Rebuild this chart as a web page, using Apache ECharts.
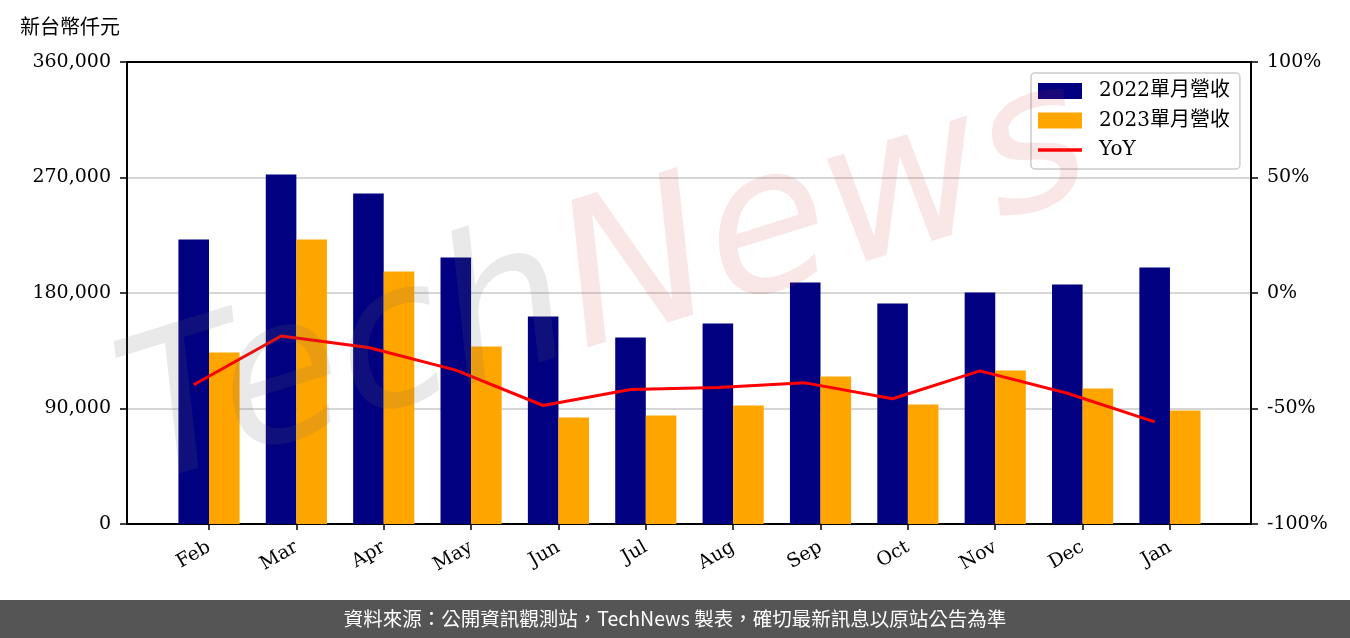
<!DOCTYPE html>
<html><head><meta charset="utf-8">
<script src="https://cdn.jsdelivr.net/npm/echarts@6/dist/echarts.min.js"></script>
<style>html,body{margin:0;padding:0;background:#fff}#c{width:1350px;height:638px}</style>
</head><body><div id="c"></div>
<script>
const categories = ['Feb','Mar','Apr','May','Jun','Jul','Aug','Sep','Oct','Nov','Dec','Jan'];
const revenue2022 = [221700, 272300, 257500, 207700, 161700, 145300, 156200, 188200, 171800, 180400, 186600, 199900];
const revenue2023 = [133600, 221700, 196700, 138300, 83000, 84500, 92300, 114900, 93100, 119600, 105600, 88400];
const yoy = [-39.7, -18.6, -23.6, -33.4, -48.7, -41.8, -40.9, -38.9, -45.8, -33.7, -43.4, -55.8];
const leftTicks = [0, 90000, 180000, 270000, 360000];
const rightTicks = [-100, -50, 0, 50, 100];
const seriesNames = ['2022單月營收', '2023單月營收', 'YoY'];
const unitLabel = '新台幣仟元';
const footerText = '資料來源：公開資訊觀測站，TechNews 製表，確切最新訊息以原站公告為準';

// layout
const PL = 127, PT = 62, PW = 1124, PH = 462;
const STEP = 87.36, FIRST = 209;
const G1L = FIRST - STEP / 2, G1W = STEP * categories.length;
const G2L = G1L - 0.175 * STEP;
const SERIF = "'DejaVu Serif', 'Noto Sans CJK TC', serif";

const chart = echarts.init(document.getElementById('c'), null, {renderer: 'canvas'});
const fmt = v => v.toLocaleString('en-US');
const hidden = {show: false};
const spine = {show: true, onZero: false, lineStyle: {color: '#000', width: 2}};
const option = {
  animation: false,
  backgroundColor: '#fff',
  grid: [
    {left: PL, top: PT, width: PW, height: PH},
    {left: G1L, top: PT, width: G1W, height: PH},
    {left: G2L, top: PT, width: G1W, height: PH}
  ],
  xAxis: [
    {gridIndex: 0, type: 'value', min: 0, max: 1, position: 'bottom',
     axisLine: spine, axisTick: hidden, axisLabel: hidden, splitLine: hidden},
    {gridIndex: 0, type: 'value', min: 0, max: 1, position: 'top',
     axisLine: spine, axisTick: hidden, axisLabel: hidden, splitLine: hidden},
    {gridIndex: 1, type: 'category', data: categories, boundaryGap: true,
     axisLine: {show: false, onZero: false},
     axisTick: {show: true, alignWithLabel: true, length: 6, lineStyle: {color: '#000', width: 1.5}},
     axisLabel: {rotate: 30, margin: 22, color: '#000', fontSize: 19, fontFamily: SERIF, interval: 0},
     splitLine: hidden},
    {gridIndex: 2, type: 'category', data: categories, boundaryGap: true,
     axisLine: {show: false, onZero: false}, axisTick: hidden, axisLabel: hidden, splitLine: hidden}
  ],
  yAxis: [
    {gridIndex: 0, type: 'value', position: 'left', min: leftTicks[0], max: leftTicks[leftTicks.length - 1], interval: leftTicks[1] - leftTicks[0],
     axisLine: spine,
     axisTick: {show: true, length: 7, lineStyle: {color: '#000', width: 1.5}},
     axisLabel: {formatter: fmt, margin: 16, color: '#000', fontSize: 19, fontFamily: SERIF},
     splitLine: {show: true, lineStyle: {color: '#d6d6d6', width: 2}}},
    {gridIndex: 0, type: 'value', position: 'right', min: rightTicks[0], max: rightTicks[rightTicks.length - 1], interval: rightTicks[1] - rightTicks[0],
     axisLine: spine,
     axisTick: {show: true, length: 7, lineStyle: {color: '#000', width: 1.5}},
     axisLabel: {formatter: v => v + '%', margin: 16, color: '#000', fontSize: 19, fontFamily: SERIF},
     splitLine: hidden},
    {gridIndex: 1, type: 'value', min: leftTicks[0], max: leftTicks[leftTicks.length - 1], show: false},
    {gridIndex: 2, type: 'value', min: rightTicks[0], max: rightTicks[rightTicks.length - 1], show: false}
  ],
  legend: {
    left: 1031, top: 73, orient: 'vertical',
    padding: [8, 10, 9, 7], itemGap: 9.5, itemWidth: 44, itemHeight: 16,
    backgroundColor: '#fff', borderColor: '#cccccc', borderWidth: 1.5, borderRadius: 4,
    textStyle: {color: '#000', fontSize: 20, fontFamily: SERIF, padding: [0, 0, 0, 12]},
    data: [
      {name: seriesNames[0], icon: 'rect'},
      {name: seriesNames[1], icon: 'rect'},
      {name: seriesNames[2], icon: 'path://M0,0H44V3.5H0Z'}
    ]
  },
  series: [
    {name: seriesNames[0], type: 'bar', xAxisIndex: 2, yAxisIndex: 2, data: revenue2022,
     barWidth: 0.35 * STEP, barGap: '0%', itemStyle: {color: '#000080'}},
    {name: seriesNames[1], type: 'bar', xAxisIndex: 2, yAxisIndex: 2, data: revenue2023,
     barWidth: 0.35 * STEP, barGap: '0%', itemStyle: {color: '#ffa500'}},
    {name: seriesNames[2], type: 'line', xAxisIndex: 3, yAxisIndex: 3, data: yoy,
     symbol: 'none', showSymbol: false, lineStyle: {color: '#ff0000', width: 3}, itemStyle: {color: '#ff0000'}, z: 5}
  ],
  graphic: [
    {type: 'text', left: 20, top: 16, style: {text: unitLabel, fill: '#000', font: "20px 'Noto Sans CJK TC', sans-serif"}},
    {type: 'text', x: 160, y: 530, rotation: 0.3, z: 100, silent: true,
     style: {text: '{a|Tech}{b|News}', textVerticalAlign: 'bottom',
       rich: {
         a: {fill: 'rgba(110,110,110,0.15)', fontSize: 200, fontStyle: 'italic', fontFamily: "'DejaVu Sans'"},
         b: {fill: 'rgba(205,60,60,0.12)', fontSize: 200, fontStyle: 'italic', fontFamily: "'DejaVu Sans'"}
       }}},
    {type: 'rect', left: 0, top: 600, shape: {width: 1350, height: 38}, style: {fill: '#555555'}, z: 50},
    {type: 'text', x: 675, y: 619, z: 51,
     style: {text: footerText, fill: '#fff', align: 'center', verticalAlign: 'middle', font: "19.5px 'Noto Sans CJK TC', sans-serif"}}
  ]
};
chart.setOption(option);
</script></body></html>
